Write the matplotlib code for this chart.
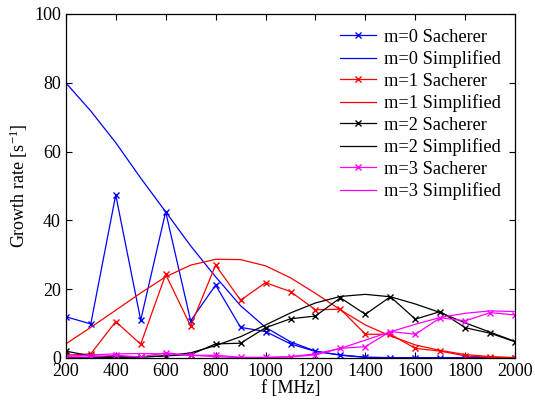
import matplotlib
matplotlib.use('Agg')
import matplotlib.pyplot as plt

plt.rcParams['font.family'] = ['Liberation Serif', 'DejaVu Serif']
plt.rcParams['mathtext.fontset'] = 'custom'
plt.rcParams['mathtext.rm'] = 'Liberation Serif'
plt.rcParams['mathtext.it'] = 'Liberation Serif:italic'

# frequency grid [MHz]
freq = [200, 300, 400, 500, 600, 700, 800, 900, 1000, 1100,
        1200, 1300, 1400, 1500, 1600, 1700, 1800, 1900, 2000]

# Sacherer growth rates
m0_sach = [12.0, 9.9, 47.4, 11.0, 42.5, 10.8, 21.2, 8.9, 7.7, 4.1,
           1.9, 0.9, 0.2, 0.1, 0.1, 0.1, 0.1, 0.1, 0.1]
m1_sach = [0.8, 1.2, 10.6, 4.0, 24.3, 9.3, 27.0, 16.8, 21.9, 19.3,
           14.0, 14.2, 6.9, 6.9, 2.8, 2.0, 0.6, 0.2, 0.1]
m2_sach = [2.0, 0.6, 0.3, 0.3, 0.6, 1.0, 4.1, 4.3, 8.8, 11.4,
           12.2, 17.5, 12.7, 17.8, 11.3, 13.5, 8.8, 7.2, 4.7]
m3_sach = [0.3, 0.3, 0.8, 0.3, 1.5, 0.8, 0.8, 0.2, 0.2, 0.3,
           0.9, 2.8, 3.3, 7.7, 6.9, 11.7, 10.8, 13.2, 12.5]

# Simplified model growth rates
m0_simp = [80.0, 71.8, 62.6, 52.3, 42.5, 32.6, 23.6, 15.2, 8.9, 4.7,
           2.0, 0.8, 0.2, 0.1, 0.0, 0.0, 0.0, 0.0, 0.0]
m1_simp = [4.1, 8.9, 13.9, 18.9, 23.6, 27.0, 28.7, 28.6, 26.8, 23.3,
           18.8, 14.0, 9.6, 6.4, 3.8, 2.2, 1.0, 0.4, 0.1]
m2_simp = [0.1, 0.1, 0.2, 0.3, 0.6, 1.5, 3.6, 6.2, 9.6, 13.1,
           16.0, 17.9, 18.5, 17.8, 15.7, 13.2, 10.2, 7.5, 4.8]
m3_simp = [0.5, 0.9, 1.2, 1.3, 1.2, 0.8, 0.4, 0.1, 0.1, 0.4,
           1.2, 2.8, 5.2, 7.6, 9.8, 11.8, 13.0, 13.7, 13.5]

sach = [m0_sach, m1_sach, m2_sach, m3_sach]
simp = [m0_simp, m1_simp, m2_simp, m3_simp]
colors = ['#0000ff', '#ff0000', '#000000', '#ff00ff']

fig = plt.figure(figsize=(5.35, 4.0), dpi=100)
ax = fig.add_axes([0.123, 0.105, 0.840, 0.860])

for m in range(4):
    ax.plot(freq, sach[m], color=colors[m], marker='x', markersize=5,
            linewidth=0.9, label='m=%d Sacherer' % m)
    ax.plot(freq, simp[m], color=colors[m], linewidth=0.9,
            label='m=%d Simplified' % m)

ax.set_xlim(200, 2000)
ax.set_ylim(0, 100)
ax.set_xticks(range(200, 2001, 200))
ax.set_yticks(range(0, 101, 20))
ax.tick_params(direction='in', top=True, right=True, labelsize=13,
               length=4, width=0.8)
for s in ax.spines.values():
    s.set_linewidth(0.9)
ax.set_xlabel('f [MHz]', fontsize=13, labelpad=0)
ax.set_ylabel('Growth rate [s$^{-1}$]', fontsize=13, labelpad=3)

leg = ax.legend(loc='upper right', fontsize=13.2, frameon=False,
                handlelength=2.0, handletextpad=0.4, labelspacing=0.25,
                borderaxespad=0.4)

fig.savefig('out.png', dpi=100)
